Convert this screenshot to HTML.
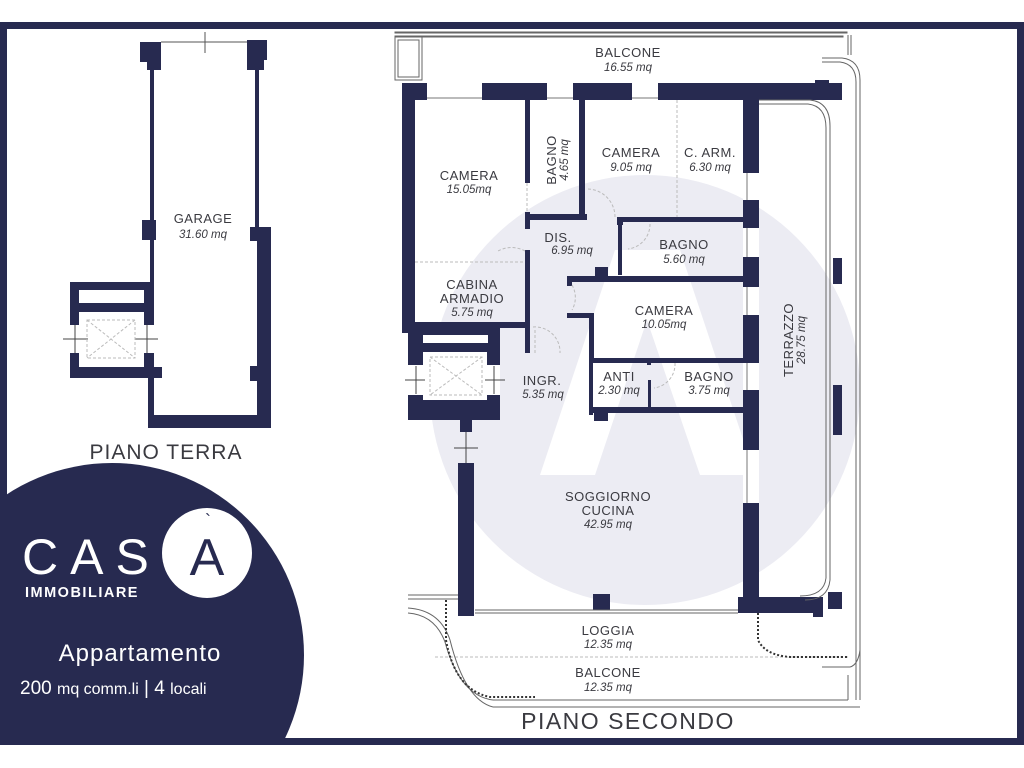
<!DOCTYPE html>
<html><head><meta charset="utf-8"><style>
html,body{margin:0;padding:0;background:#fff;width:1024px;height:768px;overflow:hidden;}
svg{display:block;}
text{font-family:"Liberation Sans",sans-serif;fill:#3a3a40;}
.t{font-size:13px;letter-spacing:0.5px;}
.i{font-size:11.5px;font-style:italic;}
</style></head><body>
<svg width="1024" height="768" viewBox="0 0 1024 768" xmlns="http://www.w3.org/2000/svg">
<rect width="1024" height="768" fill="#fff"/>
<circle cx="645" cy="390" r="215" fill="#ececf3"/>
<path d="M540 475 L615 250 L680 250 L755 475 L700 475 L647 320 L595 475 Z" fill="#fff"/>
<rect x="0" y="22" width="1024" height="7" fill="#272a50"/>
<rect x="0" y="22" width="7" height="723" fill="#272a50"/>
<rect x="1017" y="22" width="7" height="723" fill="#272a50"/>
<rect x="0" y="738" width="1024" height="7" fill="#272a50"/>
<clipPath id="cl"><rect x="0" y="22" width="1024" height="716"/></clipPath>
<circle cx="112" cy="655" r="192" fill="#272a50" clip-path="url(#cl)"/>
<circle cx="207" cy="553" r="45" fill="#fff"/>
<text x="207" y="575" text-anchor="middle" style="font-size:52px;fill:#272a50;font-weight:300">A</text>
<text x="208" y="527" text-anchor="middle" style="font-size:18px;fill:#272a50">`</text>
<text x="22" y="574" style="font-size:50px;fill:#fff;letter-spacing:12px">CAS</text>
<text x="25" y="597" style="font-size:14.5px;fill:#fff;font-weight:bold;letter-spacing:1.5px">IMMOBILIARE</text>
<text x="140" y="661" text-anchor="middle" style="font-size:24px;fill:#fff;letter-spacing:1px">Appartamento</text>
<text x="20" y="694" style="font-size:19px;fill:#fff">200 <tspan style="font-size:16px">mq comm.li</tspan> | 4 <tspan style="font-size:16px">locali</tspan></text>

<g fill="#272a50">
<rect x="140" y="42" width="21" height="20"/><rect x="147" y="60" width="14" height="10"/>
<rect x="247" y="40" width="20" height="20"/><rect x="247" y="58" width="17" height="12"/>
<rect x="150" y="68" width="4" height="215"/>
<rect x="142" y="220" width="14" height="20"/>
<rect x="255" y="68" width="4" height="162"/>
<rect x="250" y="227" width="21" height="14"/><rect x="257" y="227" width="14" height="201"/>
<rect x="250" y="366" width="10" height="15"/>
<rect x="150" y="415" width="121" height="13"/><rect x="148" y="378" width="6" height="50"/>
<rect x="70" y="282" width="84" height="8"/><rect x="70" y="282" width="9" height="43"/>
<rect x="144" y="282" width="10" height="43"/><rect x="70" y="303" width="84" height="9"/>
<rect x="70" y="353" width="9" height="25"/><rect x="144" y="353" width="10" height="25"/>
<rect x="70" y="367" width="92" height="11"/>
<rect x="402" y="83" width="440" height="17"/>
<rect x="815" y="80" width="14" height="10"/>
<rect x="402" y="83" width="13" height="250"/>
<rect x="408" y="327" width="92" height="93"/>
<rect x="460" y="418" width="12" height="14"/>
<rect x="458" y="463" width="16" height="153"/>
<rect x="743" y="100" width="16" height="512"/>
<rect x="738" y="597" width="84" height="16"/><rect x="813" y="597" width="10" height="20"/>
<rect x="828" y="592" width="14" height="17"/>
<rect x="593" y="594" width="17" height="16"/>
<rect x="833" y="258" width="9" height="26"/><rect x="833" y="385" width="9" height="50"/>
<rect x="525" y="100" width="5" height="83"/><rect x="525" y="212" width="5" height="17"/>
<rect x="525" y="214" width="62" height="6"/>
<rect x="579" y="100" width="6" height="120"/>
<rect x="617" y="217" width="126" height="5"/><rect x="617" y="217" width="6" height="8"/>
<rect x="618" y="217" width="4" height="58"/>
<rect x="567" y="276" width="176" height="6"/><rect x="567" y="276" width="5" height="10"/>
<rect x="595" y="267" width="13" height="10"/>
<rect x="525" y="250" width="5" height="103"/>
<rect x="415" y="322" width="110" height="6"/>
<rect x="567" y="313" width="26" height="5"/><rect x="589" y="313" width="5" height="47"/>
<rect x="589" y="358" width="154" height="5"/>
<rect x="647" y="358" width="4" height="7"/>
<rect x="589" y="360" width="4" height="55"/>
<rect x="589" y="407" width="154" height="6"/><rect x="594" y="407" width="14" height="14"/>
<rect x="648" y="380" width="3" height="30"/>
</g>
<g fill="#fff">
<rect x="79" y="290" width="65" height="13"/>
<rect x="79" y="312" width="65" height="41"/>
<rect x="423" y="335" width="65" height="8"/>
<rect x="423" y="352" width="64" height="48"/>
<rect x="408" y="365" width="15" height="30"/><rect x="487" y="365" width="13" height="30"/>
<rect x="427" y="83" width="55" height="17"/><rect x="547" y="83" width="26" height="17"/><rect x="632" y="83" width="26" height="17"/>
<rect x="743" y="173" width="16" height="27"/><rect x="743" y="228" width="16" height="29"/><rect x="743" y="287" width="16" height="28"/><rect x="743" y="363" width="16" height="27"/><rect x="743" y="450" width="16" height="53"/>
</g>
<g stroke="#777" stroke-width="1" fill="none">
<line x1="427" y1="98" x2="482" y2="98"/><line x1="547" y1="98" x2="573" y2="98"/><line x1="632" y1="98" x2="658" y2="98"/>
<line x1="747" y1="173" x2="747" y2="200"/><line x1="747" y1="228" x2="747" y2="257"/><line x1="747" y1="287" x2="747" y2="315"/><line x1="747" y1="363" x2="747" y2="390"/><line x1="747" y1="450" x2="747" y2="503"/>
<line x1="161" y1="42" x2="247" y2="42" stroke="#555"/><line x1="205" y1="32" x2="205" y2="53" stroke="#555"/>
<line x1="63" y1="339" x2="88" y2="339" stroke="#444"/><line x1="135" y1="339" x2="158" y2="339" stroke="#444"/>
<line x1="75" y1="325" x2="75" y2="353" stroke="#444"/><line x1="147" y1="325" x2="147" y2="353" stroke="#444"/>
<line x1="405" y1="380" x2="425" y2="380" stroke="#444"/><line x1="485" y1="380" x2="505" y2="380" stroke="#444"/>
<line x1="416" y1="366" x2="416" y2="394" stroke="#444"/><line x1="494" y1="366" x2="494" y2="394" stroke="#444"/>
<line x1="454" y1="448" x2="478" y2="448" stroke="#444"/><line x1="466" y1="432" x2="466" y2="463" stroke="#444"/>
</g>
<g stroke="#bbb" stroke-dasharray="3,2" fill="none">
<rect x="87" y="320" width="48" height="38"/><line x1="87" y1="320" x2="135" y2="358"/><line x1="135" y1="320" x2="87" y2="358"/>
<rect x="430" y="357" width="52" height="38"/><line x1="430" y1="357" x2="482" y2="395"/><line x1="482" y1="357" x2="430" y2="395"/>
<line x1="527" y1="183" x2="527" y2="212"/>
<line x1="677" y1="100" x2="677" y2="217"/>
<line x1="415" y1="262" x2="525" y2="262"/>
<line x1="435" y1="657" x2="848" y2="657"/>
<path d="M588 189 A28 28 0 0 1 615 217"/><path d="M525 251 A28 28 0 0 0 498 251"/><path d="M650 224 A25 25 0 0 1 628 249"/>
<path d="M572 285 A25 25 0 0 1 572 310"/><path d="M533 327 A25 25 0 0 1 560 353"/><path d="M675 363 A24 24 0 0 1 654 388"/><path d="M535 353 L535 330"/>
</g>
<g stroke="#666" stroke-width="1" fill="none">
<rect x="395" y="32" width="452" height="1"/><rect x="395" y="36" width="448" height="1"/>
<rect x="395" y="37" width="27" height="43"/><rect x="398" y="40" width="21" height="37"/>
<path d="M848 35 V55 M851 35 V55"/>
<path d="M822 58 L842 58 Q860 60 860 80 V700 M822 62 L840 62 Q856 64 856 82 V700"/>
<path d="M759 104 L808 104 Q826 106 826 128 V578 Q824 596 800 596 M759 100 L810 100 Q830 102 830 126 V580 Q828 600 805 600"/>
<path d="M493 707 L860 707 M493 700 L848 700 M848 675 V700"/>
<path d="M408 595 L458 595 M408 599 L458 599"/>
<path d="M408 608 Q440 610 450 640 Q465 700 493 707 M408 613 Q435 615 445 642 Q460 696 493 700"/>
<path d="M822 667 L850 667 Q858 665 860 650"/>
<line x1="475" y1="610" x2="738" y2="610"/><line x1="475" y1="613" x2="738" y2="613"/>
</g>
<g stroke="#333" stroke-dasharray="2,2" stroke-width="2" fill="none">
<path d="M446 600 L446 640 Q455 690 490 697 L535 697"/>
<path d="M758 613 L758 640 Q765 655 790 657 L848 657"/>
</g>
<g text-anchor="middle">
<text x="203" y="223" class="t">GARAGE</text><text x="203" y="238" class="i">31.60 mq</text>
<text x="166" y="459" style="font-size:21px;letter-spacing:1px">PIANO TERRA</text>
<text x="628" y="729" style="font-size:23px;letter-spacing:1.5px">PIANO SECONDO</text>
<text x="628" y="57" class="t">BALCONE</text><text x="628" y="71" class="i">16.55 mq</text>
<text x="469" y="180" class="t">CAMERA</text><text x="469" y="193" class="i">15.05mq</text>
<text x="631" y="157" class="t">CAMERA</text><text x="631" y="171" class="i">9.05 mq</text>
<text x="710" y="157" class="t">C. ARM.</text><text x="710" y="171" class="i">6.30 mq</text>
<text x="558" y="242" class="t">DIS.</text><text x="572" y="254" class="i">6.95 mq</text>
<text x="684" y="249" class="t">BAGNO</text><text x="684" y="263" class="i">5.60 mq</text>
<text x="472" y="289" class="t">CABINA</text><text x="472" y="303" class="t">ARMADIO</text><text x="472" y="316" class="i">5.75 mq</text>
<text x="664" y="315" class="t">CAMERA</text><text x="664" y="328" class="i">10.05mq</text>
<text x="542" y="385" class="t">INGR.</text><text x="543" y="398" class="i">5.35 mq</text>
<text x="619" y="381" class="t">ANTI</text><text x="619" y="394" class="i">2.30 mq</text>
<text x="709" y="381" class="t">BAGNO</text><text x="709" y="394" class="i">3.75 mq</text>
<text x="608" y="501" class="t">SOGGIORNO</text><text x="608" y="515" class="t">CUCINA</text><text x="608" y="528" class="i">42.95 mq</text>
<text x="608" y="635" class="t">LOGGIA</text><text x="608" y="648" class="i">12.35 mq</text>
<text x="608" y="677" class="t">BALCONE</text><text x="608" y="691" class="i">12.35 mq</text>
<text transform="translate(556,160) rotate(-90)" class="t">BAGNO</text>
<text transform="translate(568,160) rotate(-90)" class="i">4.65 mq</text>
<text transform="translate(793,340) rotate(-90)" class="t">TERRAZZO</text>
<text transform="translate(805,340) rotate(-90)" class="i">28.75 mq</text>
</g>
</svg>
</body></html>
